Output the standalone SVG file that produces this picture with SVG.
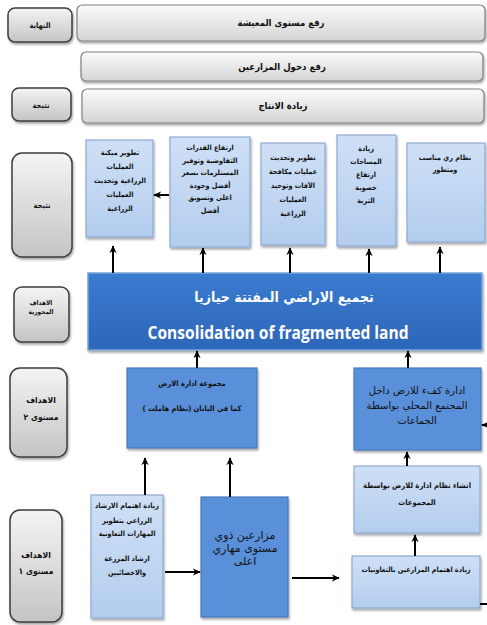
<svg xmlns="http://www.w3.org/2000/svg" width="487" height="625" viewBox="0 0 487 625">
<defs>
<linearGradient id="gBar" x1="0" y1="0" x2="0" y2="1"><stop offset="0" stop-color="#fbfbfb"/><stop offset="1" stop-color="#d4d4d4"/></linearGradient>
<linearGradient id="gLab" x1="0" y1="0" x2="0" y2="1"><stop offset="0" stop-color="#f4f4f4"/><stop offset="1" stop-color="#c4c4c4"/></linearGradient>
<linearGradient id="gLt" x1="0" y1="0" x2="0" y2="1"><stop offset="0" stop-color="#cfe0f6"/><stop offset="1" stop-color="#b3cdee"/></linearGradient>
<linearGradient id="gBig" x1="0" y1="0" x2="0" y2="1"><stop offset="0" stop-color="#3a7bd0"/><stop offset="1" stop-color="#2d66b8"/></linearGradient>
<filter id="sh" x="-10%" y="-10%" width="125%" height="130%"><feDropShadow dx="1" dy="2" stdDeviation="1.2" flood-color="#000" flood-opacity="0.35"/></filter>
<marker id="ah" viewBox="0 0 10 10" refX="9" refY="5" markerWidth="8" markerHeight="8" markerUnits="userSpaceOnUse" orient="auto"><path d="M0,0.5 L10,5 L0,9.5 L3,5 z" fill="#000"/></marker>
</defs>
<style>
text{font-family:"DejaVu Sans Condensed","DejaVu Sans","Noto Sans",sans-serif;text-anchor:middle;fill:#111}
.bar{fill:url(#gBar);stroke:#808080;stroke-width:1.2;filter:url(#sh)}
.lab{fill:url(#gLab);stroke:#3c3c3c;stroke-width:1.5;filter:url(#sh)}
.lt{fill:url(#gLt);stroke:#8fabd3;stroke-width:1.2;filter:url(#sh)}
.md{fill:#5a8fd9;stroke:#4a78bd;stroke-width:1.2;filter:url(#sh)}
.big{fill:url(#gBig);stroke:#79a3dc;stroke-width:1.5;filter:url(#sh)}
.tb{font-size:9.5px;font-weight:bold}
.tl{font-size:7.5px;font-weight:bold}
.tx{font-size:7.2px;font-weight:bold}
.tm{font-size:10px;font-family:"DejaVu Sans",sans-serif}
.wt{fill:#fff;font-weight:bold}
.cn{fill:none;stroke:#000;stroke-width:2;marker-end:url(#ah)}
</style>

<g id="n-end-label"><rect class="lab" x="8" y="8" width="64" height="34" rx="7"/><text class="tl" x="40" y="28">النهاية</text></g>
<g id="n-living"><rect class="bar" x="77" y="5" width="408" height="36" rx="5"/><text class="tb" x="281" y="26">رفع مستوى المعيشة</text></g>
<g id="n-income"><rect class="bar" x="81" y="52" width="402" height="29" rx="5"/><text class="tb" x="282" y="70">رفع دخول المزارعين</text></g>
<g id="n-result-label1"><rect class="lab" x="12" y="88" width="59" height="33" rx="7"/><text class="tl" x="41" y="108">نتيجة</text></g>
<g id="n-production"><rect class="bar" x="82" y="89" width="402" height="34" rx="5"/><text class="tb" x="283" y="109">زيادة الانتاج</text></g>

<g id="n-result-label2"><rect class="lab" x="12" y="153" width="60" height="104" rx="10"/><text class="tl" x="42" y="208">نتيجة</text></g>
<g id="n-mech"><rect class="lt" x="86" y="140" width="67" height="97"/>
<text class="tx" x="120" y="155">تطوير ميكنة</text><text class="tx" x="120" y="169">العمليات</text><text class="tx" x="120" y="183">الزراعية وتحديث</text><text class="tx" x="120" y="197">العمليات</text><text class="tx" x="120" y="211">الزراعية</text></g>
<g id="n-negotiation"><rect class="lt" x="170" y="137" width="80" height="110"/>
<text class="tx" x="210" y="150">ارتفاع القدرات</text><text class="tx" x="210" y="162.5">التفاوضية وتوفير</text><text class="tx" x="210" y="175">المستلزمات بسعر</text><text class="tx" x="210" y="187.5">أفضل وجودة</text><text class="tx" x="210" y="200">اعلى وتسويق</text><text class="tx" x="210" y="212.5">أفضل</text></g>
<g id="n-pest"><rect class="lt" x="261" y="143" width="64" height="102"/>
<text class="tx" x="293" y="160">تطوير وتحديث</text><text class="tx" x="293" y="174">عمليات مكافحة</text><text class="tx" x="293" y="188">الآفات وتوحيد</text><text class="tx" x="293" y="202">العمليات</text><text class="tx" x="293" y="216">الزراعية</text></g>
<g id="n-area"><rect class="lt" x="337" y="135" width="59" height="111"/>
<text class="tx" x="366" y="151">زيادة</text><text class="tx" x="366" y="164">المساحات</text><text class="tx" x="366" y="177">ارتفاع</text><text class="tx" x="366" y="190">خصوبة</text><text class="tx" x="366" y="203">التربة</text></g>
<g id="n-irrigation"><rect class="lt" x="407" y="143" width="78" height="99"/>
<text class="tx" x="445" y="160">نظام ري  مناسب</text><text class="tx" x="445" y="172">ومتطور</text></g>

<g id="n-core-label"><rect class="lab" x="14" y="287" width="55" height="55" rx="8"/><text class="tl" x="41" y="305" style="font-size:6.5px">الاهداف</text><text class="tl" x="41" y="314" style="font-size:6.5px">المحورية</text></g>
<g id="n-consolidation"><rect class="big" x="88" y="273" width="394" height="77"/>
<text class="wt" x="284" y="302" style="font-size:14px">تجميع الاراضي المفتتة حيازيا</text>
<text class="wt" x="278" y="339" style="font-size:17px;font-family:'Open Sans','Liberation Sans',sans-serif" textLength="261" lengthAdjust="spacingAndGlyphs">Consolidation of fragmented land</text></g>

<g id="n-level2-label"><rect class="lab" x="10" y="368" width="57" height="89" rx="10"/><text class="tl" x="41" y="403" style="font-size:8.5px">الاهداف</text><text class="tl" x="41" y="420" style="font-size:8.5px">مستوى ٢</text></g>
<g id="n-group"><rect class="md" x="127" y="368" width="130" height="80"/>
<text class="tx" x="192" y="386" style="font-size:7.5px">مجموعة ادارة الارض</text><text class="tx" x="192" y="411" style="font-size:7.5px">كما في اليابان (نظام هاملت )</text></g>
<g id="n-efficient"><rect class="md" x="354" y="368" width="127" height="82"/>
<text class="tm" x="417" y="394">ادارة كفء للارض داخل</text><text class="tm" x="417" y="409">المجتمع المحلي بواسطة</text><text class="tm" x="417" y="424">الجماعات</text></g>
<g id="n-establish"><rect class="lt" x="354" y="466" width="126" height="67"/>
<text class="tx" x="417" y="488" style="font-size:7.6px">انشاء نظام ادارة للارض بواسطة</text><text class="tx" x="417" y="505" style="font-size:7.6px">المجموعات</text></g>

<g id="n-level1-label"><rect class="lab" x="10" y="510" width="52" height="112" rx="10"/><text class="tl" x="36" y="558" style="font-size:8.5px">الاهداف</text><text class="tl" x="36" y="574" style="font-size:8.5px">مستوى ١</text></g>
<g id="n-extension"><rect class="lt" x="91" y="495" width="72" height="123"/>
<text class="tx" x="127" y="508">زيادة اهتمام الارشاد</text><text class="tx" x="127" y="523">الزراعي بتطوير</text><text class="tx" x="127" y="536">المهارات التعاونية</text><text class="tx" x="127" y="561">ارشاد المزرعة</text><text class="tx" x="127" y="575">والاخصائيين</text></g>
<g id="n-skilled"><rect class="md" x="201" y="497" width="87" height="120"/>
<text class="tm" x="245" y="539" style="font-size:11px">مزارعين ذوي</text><text class="tm" x="245" y="552" style="font-size:11px">مستوى مهاري</text><text class="tm" x="245" y="565" style="font-size:11px">اعلى</text></g>
<g id="n-coops"><rect class="lt" x="352" y="556" width="128" height="52"/>
<text class="tx" x="416" y="572">زيادة اهتمام المزارعين  بالتعاونيات</text></g>

<g id="connectors">
<path class="cn" d="M169,195 H154"/>
<path class="cn" d="M113,273 V246"/>
<path class="cn" d="M203,273 V248"/>
<path class="cn" d="M290,273 V248"/>
<path class="cn" d="M369,273 V249"/>
<path class="cn" d="M440,273 V247"/>
<path class="cn" d="M197,368 V351"/>
<path class="cn" d="M408,368 V351"/>
<path class="cn" d="M145,495 V458"/>
<path class="cn" d="M230,497 V458"/>
<path class="cn" d="M407,466 V452"/>
<path class="cn" d="M415,556 V535"/>
<path class="cn" d="M165,572 H200"/>
<path class="cn" d="M292,578 H339"/>
<path class="cn" d="M480,604 H490 V425 H482"/>
</g>
</svg>
